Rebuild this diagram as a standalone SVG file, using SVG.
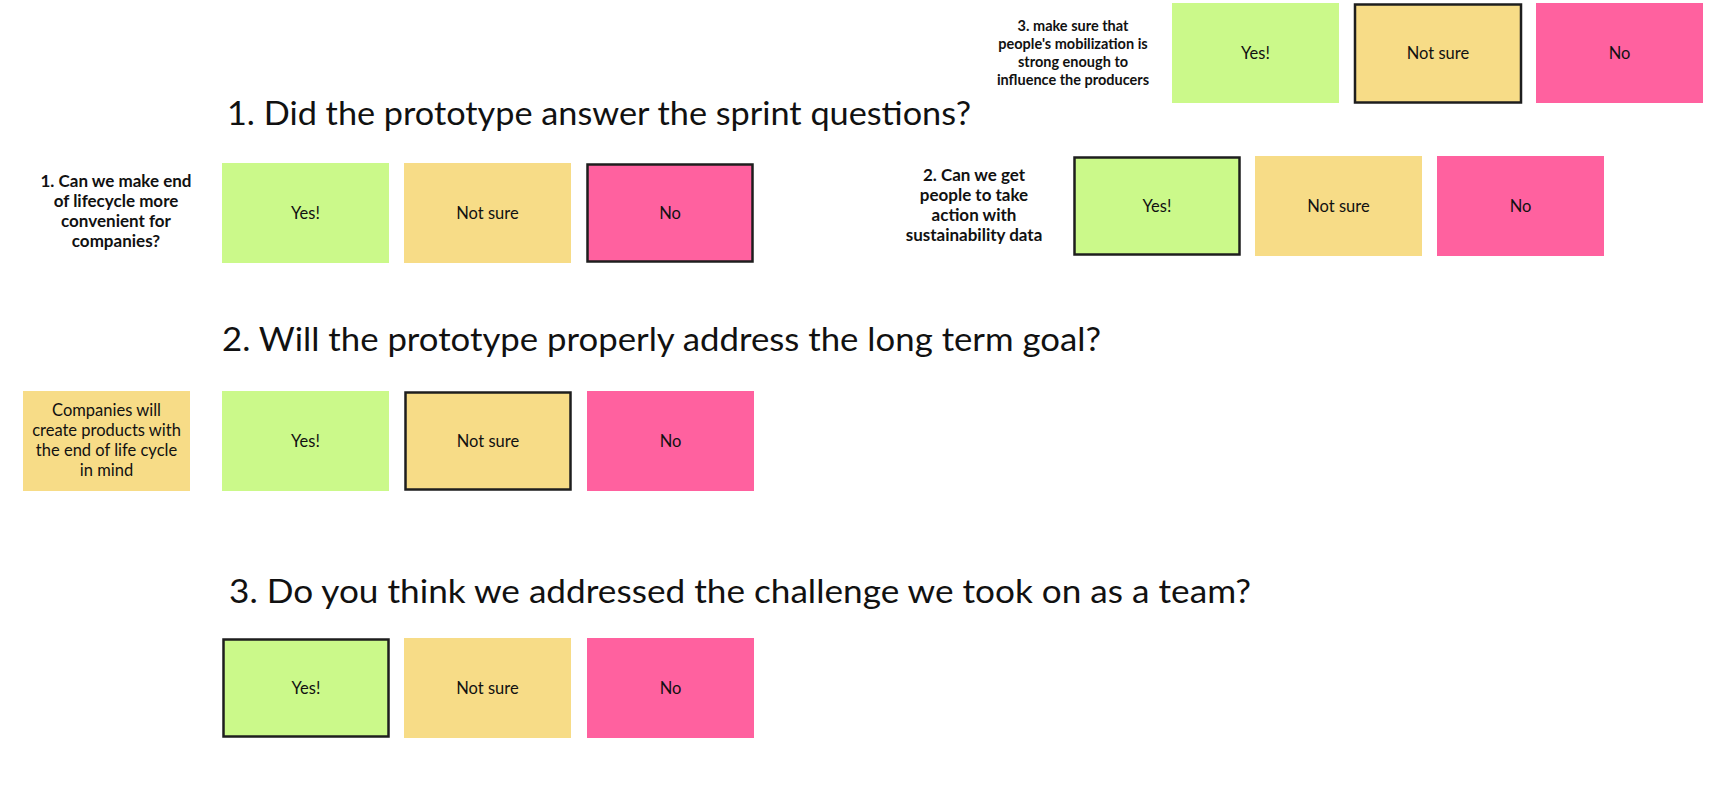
<svg xmlns="http://www.w3.org/2000/svg" width="1710" height="792" viewBox="0 0 1710 792">
<style>
.bg{fill:#ffffff}
.g{fill:#cbf98a}
.y{fill:#f7dc87}
.p{fill:#ff619f}
.sel{stroke:#1e1e1e;stroke-width:2.5}
.t{font-family:Lato,"Open Sans",sans-serif;font-size:16.5px;fill:#111;text-anchor:middle;dominant-baseline:central}
.n{font-family:Lato,"Open Sans",sans-serif;font-size:16.5px;fill:#111;text-anchor:middle;dominant-baseline:central}
.h{font-family:Lato,"Open Sans",sans-serif;font-size:33px;fill:#111}
.b{font-family:Lato,"Open Sans",sans-serif;font-size:17px;font-weight:bold;fill:#111;text-anchor:middle}
.bs{font-family:Lato,"Open Sans",sans-serif;font-size:14.5px;font-weight:bold;fill:#111;text-anchor:middle}
</style>
<rect class="bg" x="0" y="0" width="1710" height="792"/>

<g id="title1"><text class="h" x="227" y="125" textLength="744" lengthAdjust="spacingAndGlyphs">1. Did the prototype answer the sprint questions?</text></g>
<g id="title2"><text class="h" x="222" y="351" textLength="879" lengthAdjust="spacingAndGlyphs">2. Will the prototype properly address the long term goal?</text></g>
<g id="title3"><text class="h" x="229" y="603" textLength="1022" lengthAdjust="spacingAndGlyphs">3. Do you think we addressed the challenge we took on as a team?</text></g>

<g id="q3-label">
<text class="bs" x="1073" y="31">3. make sure that</text>
<text class="bs" x="1073" y="49">people's mobilization is</text>
<text class="bs" x="1073" y="67">strong enough to</text>
<text class="bs" x="1073" y="85">influence the producers</text>
</g>
<g id="q3-yes"><rect class="g" x="1172" y="3" width="167" height="100"/><text class="t" x="1255.5" y="53">Yes!</text></g>
<g id="q3-notsure"><rect class="y sel" x="1355" y="4.5" width="166" height="98"/><text class="t" x="1438" y="53">Not sure</text></g>
<g id="q3-no"><rect class="p" x="1536" y="3" width="167" height="100"/><text class="t" x="1619.5" y="53">No</text></g>

<g id="q1-label">
<text class="b" x="116" y="187">1. Can we make end</text>
<text class="b" x="116" y="207">of lifecycle more</text>
<text class="b" x="116" y="227">convenient for</text>
<text class="b" x="116" y="247">companies?</text>
</g>
<g id="q1-yes"><rect class="g" x="222" y="163" width="167" height="100"/><text class="t" x="305.5" y="213">Yes!</text></g>
<g id="q1-notsure"><rect class="y" x="404" y="163" width="167" height="100"/><text class="t" x="487.5" y="213">Not sure</text></g>
<g id="q1-no"><rect class="p sel" x="587.5" y="164.5" width="165" height="97"/><text class="t" x="670" y="213">No</text></g>

<g id="q2-label">
<text class="b" x="974" y="181">2. Can we get</text>
<text class="b" x="974" y="201">people to take</text>
<text class="b" x="974" y="221">action with</text>
<text class="b" x="974" y="241">sustainability data</text>
</g>
<g id="q2-yes"><rect class="g sel" x="1074.5" y="157.5" width="165" height="97"/><text class="t" x="1157" y="206">Yes!</text></g>
<g id="q2-notsure"><rect class="y" x="1255" y="156" width="167" height="100"/><text class="t" x="1338.5" y="206">Not sure</text></g>
<g id="q2-no"><rect class="p" x="1437" y="156" width="167" height="100"/><text class="t" x="1520.5" y="206">No</text></g>

<g id="goal-note"><rect class="y" x="23" y="391" width="167" height="100"/>
<text class="n" x="106.5" y="410">Companies will</text>
<text class="n" x="106.5" y="430">create products with</text>
<text class="n" x="106.5" y="450">the end of life cycle</text>
<text class="n" x="106.5" y="470">in mind</text>
</g>
<g id="g-yes"><rect class="g" x="222" y="391" width="167" height="100"/><text class="t" x="305.5" y="441">Yes!</text></g>
<g id="g-notsure"><rect class="y sel" x="405.5" y="392.5" width="165" height="97"/><text class="t" x="488" y="441">Not sure</text></g>
<g id="g-no"><rect class="p" x="587" y="391" width="167" height="100"/><text class="t" x="670.5" y="441">No</text></g>

<g id="c-yes"><rect class="g sel" x="223.5" y="639.5" width="165" height="97"/><text class="t" x="306" y="688">Yes!</text></g>
<g id="c-notsure"><rect class="y" x="404" y="638" width="167" height="100"/><text class="t" x="487.5" y="688">Not sure</text></g>
<g id="c-no"><rect class="p" x="587" y="638" width="167" height="100"/><text class="t" x="670.5" y="688">No</text></g>

<g id="connectors"></g>
</svg>
